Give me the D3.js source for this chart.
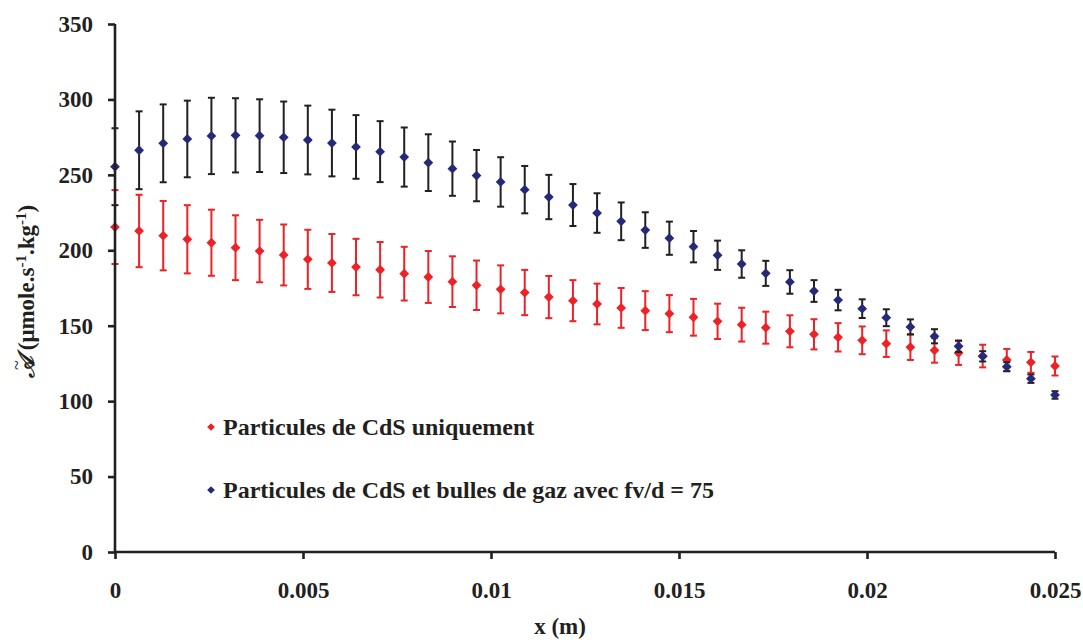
<!DOCTYPE html>
<html><head><meta charset="utf-8">
<script src="https://cdn.jsdelivr.net/npm/d3@7"></script>
<style>
html,body{margin:0;padding:0;background:#fff;}
svg{display:block;}
text{font-family:"Liberation Serif","Times New Roman",serif;font-weight:bold;fill:#231f20;}
</style></head>
<body><svg id="c" width="1083" height="640"></svg>
<script>
const xValues = [0, 0.000641, 0.001282, 0.001923, 0.002564, 0.003205, 0.003846, 0.004487, 0.005128, 0.005769,
  0.006410, 0.007051, 0.007692, 0.008333, 0.008974, 0.009615, 0.010256, 0.010897, 0.011538, 0.012179,
  0.012821, 0.013462, 0.014103, 0.014744, 0.015385, 0.016026, 0.016667, 0.017308, 0.017949, 0.018590,
  0.019231, 0.019872, 0.020513, 0.021154, 0.021795, 0.022436, 0.023077, 0.023718, 0.024359, 0.025];
const cdsOnly = [215.4, 212.8, 209.7, 207.3, 205.0, 201.7, 199.5, 196.9, 194.0, 191.6,
  188.9, 187.1, 184.5, 182.3, 179.2, 176.8, 174.1, 172.0, 169.0, 166.6,
  164.4, 161.8, 160.0, 158.0, 155.6, 152.9, 150.7, 148.7, 146.3, 144.3,
  142.3, 140.3, 138.1, 135.8, 133.7, 131.9, 129.9, 127.3, 125.7, 123.3];
const cdsOnlyErr = [24.5, 24.0, 23.0, 22.6, 21.9, 21.5, 20.7, 20.2, 19.6, 19.2,
  18.7, 18.4, 17.8, 17.2, 16.8, 16.4, 15.9, 15.0, 14.0, 13.6,
  13.5, 13.2, 12.9, 12.3, 12.2, 11.7, 11.2, 10.6, 10.6, 10.0,
  9.4, 9.2, 8.8, 8.5, 8.2, 7.9, 7.5, 7.3, 6.9, 6.3];
const cdsGas = [255.4, 266.3, 270.9, 273.8, 275.8, 276.2, 276.0, 274.9, 273.1, 271.1,
  268.5, 265.4, 261.8, 258.1, 254.1, 249.5, 245.3, 240.2, 235.3, 230.0,
  224.7, 219.2, 213.4, 208.0, 202.4, 196.7, 190.9, 184.7, 179.0, 173.0,
  167.0, 161.3, 155.3, 149.2, 143.0, 136.4, 129.7, 122.8, 114.9, 104.1];
const cdsGasErr = [25.5, 25.8, 25.8, 25.4, 25.3, 24.6, 24.1, 23.7, 22.8, 22.1,
  21.1, 20.2, 19.6, 18.8, 18.0, 17.0, 16.4, 15.7, 14.7, 13.9,
  13.1, 12.5, 11.8, 11.0, 10.4, 9.7, 9.1, 8.3, 7.8, 7.2,
  6.8, 6.2, 5.6, 5.0, 4.7, 3.8, 3.4, 3.0, 2.8, 2.5];
const xTicks = [0, 0.005, 0.01, 0.015, 0.02, 0.025];
const xTickLabels = ["0", "0.005", "0.01", "0.015", "0.02", "0.025"];
const yTicks = [0, 50, 100, 150, 200, 250, 300, 350];
const seriesNames = ["Particules de CdS uniquement", "Particules de CdS et bulles de gaz avec fv/d = 75"];

const svg = d3.select("#c");
const L = 115, R = 1055, T = 24, B = 552;
const x = d3.scaleLinear().domain([0, 0.025]).range([L, R]);
const y = d3.scaleLinear().domain([0, 350]).range([B, T]);
const axisCol = "#231f20";

const series = [
  {name: seriesNames[0], vals: cdsOnly, err: cdsOnlyErr, marker: "#ec2227", bar: "#ec2227"},
  {name: seriesNames[1], vals: cdsGas, err: cdsGasErr, marker: "#252a78", bar: "#231f20"}
];

series.forEach(s => {
  const g = svg.append("g");
  const d = xValues.map((xv, i) => ({x: xv, v: s.vals[i], e: s.err[i]}));
  const eb = g.selectAll("g.eb").data(d).join("g").attr("class", "eb")
    .attr("stroke", s.bar).attr("stroke-width", 2).attr("fill", "none");
  eb.append("line").attr("x1", p => x(p.x)).attr("x2", p => x(p.x))
    .attr("y1", p => y(p.v + p.e)).attr("y2", p => y(p.v - p.e));
  eb.append("line").attr("x1", p => x(p.x) - 3.5).attr("x2", p => x(p.x) + 3.5)
    .attr("y1", p => y(p.v + p.e)).attr("y2", p => y(p.v + p.e));
  eb.append("line").attr("x1", p => x(p.x) - 3.5).attr("x2", p => x(p.x) + 3.5)
    .attr("y1", p => y(p.v - p.e)).attr("y2", p => y(p.v - p.e));
  g.selectAll("path.m").data(d).join("path").attr("class", "m")
    .attr("d", d3.symbol().type(d3.symbolSquare).size(48))
    .attr("transform", p => `translate(${x(p.x)},${y(p.v)}) rotate(45)`)
    .attr("fill", s.marker);
});

// axes
const yAxis = svg.append("g").attr("transform", `translate(${L},0)`)
  .call(d3.axisLeft(y).tickValues(yTicks).tickSize(7).tickPadding(15).tickSizeOuter(0));
const xAxis = svg.append("g").attr("transform", `translate(0,${B})`)
  .call(d3.axisBottom(x).tickValues(xTicks).tickFormat((d, i) => xTickLabels[i]).tickSize(7).tickPadding(23).tickSizeOuter(0));
[yAxis, xAxis].forEach(a => {
  a.select(".domain").attr("stroke", axisCol).attr("stroke-width", 2.6);
  a.selectAll(".tick line").attr("stroke", axisCol).attr("stroke-width", 2.6);
  a.selectAll(".tick text").style("font-family", '"Liberation Serif",serif').style("font-weight", "bold")
    .style("font-size", "23px").attr("fill", axisCol);
});
yAxis.select(".domain").attr("d", `M0,${B}V${T}`);
xAxis.select(".domain").attr("d", `M${L},0H${R}`);

// axis titles
svg.append("text").attr("x", 560).attr("y", 634).attr("text-anchor", "middle")
  .style("font-size", "23px").text("x (m)");
const ytg = svg.append("g").attr("transform", "translate(34,378) rotate(-90)");
const yt = ytg.append("text").attr("x", 0).attr("y", 0).style("font-size", "23px");
yt.append("tspan").style("font-style", "italic").text("𝒜");
yt.append("tspan").text("\u00a0(μmole.s");
yt.append("tspan").attr("dy", -8).style("font-size", "15px").text("-1");
yt.append("tspan").attr("dy", 8).text(".kg");
yt.append("tspan").attr("dy", -8).style("font-size", "15px").text("-1");
yt.append("tspan").attr("dy", 8).text(")");
ytg.append("text").attr("x", 13).attr("y", -11).attr("text-anchor", "middle")
  .style("font-size", "18px").style("font-weight", "normal").text("~");

// legend
const legY = [427, 490];
series.forEach((s, i) => {
  svg.append("path").attr("d", d3.symbol().type(d3.symbolSquare).size(30))
    .attr("transform", `translate(211,${legY[i]}) rotate(45)`).attr("fill", s.marker);
  svg.append("text").attr("x", 223).attr("y", legY[i] + 8).style("font-size", "24px").text(s.name);
});
</script></body></html>
